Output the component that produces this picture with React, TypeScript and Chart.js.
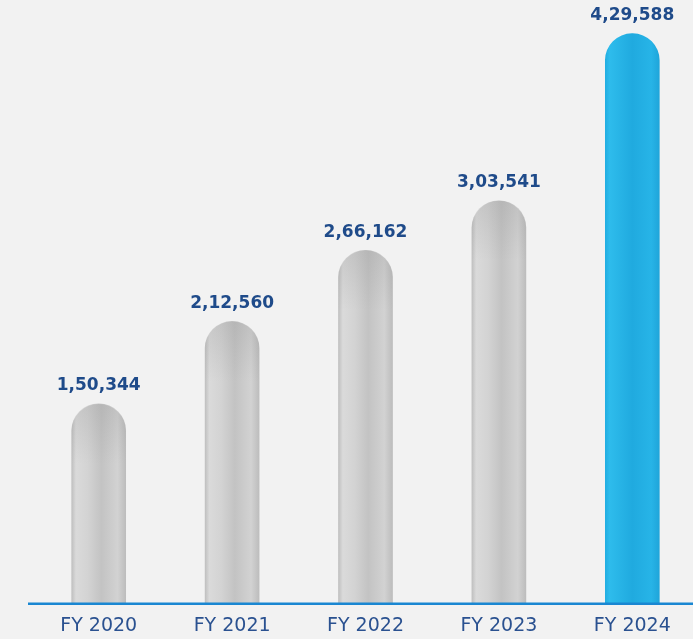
import React, { useEffect, useRef } from "react";
import { Chart, registerables } from "chart.js";

Chart.register(...registerables);

const categories = ["FY 2020", "FY 2021", "FY 2022", "FY 2023", "FY 2024"];
const values = [150344, 212560, 266162, 303541, 429588];
const valueLabels = ["1,50,344", "2,12,560", "2,66,162", "3,03,541", "4,29,588"];
const highlightIndex = [false, false, false, false, true];

const NAVY = "#1f4b8a";
const AXIS_BLUE = "#1a87d2";

export default function App() {
  const ref = useRef<HTMLCanvasElement | null>(null);

  useEffect(() => {
    document.body.style.margin = "0";
    document.body.style.overflow = "hidden";
    document.documentElement.style.overflow = "hidden";
    const canvas = ref.current;
    if (!canvas) return;

    const barColor = (ctx: any) => {
      const chart = ctx.chart;
      const xs = chart.scales?.x;
      const hi = highlightIndex[ctx.dataIndex];
      const fallback = hi ? "#26b3e6" : "#c8c8c8";
      if (!xs || ctx.dataIndex === undefined) return fallback;
      const cx = xs.getPixelForValue(ctx.dataIndex);
      if (!isFinite(cx)) return fallback;
      const half = 27;
      const g = chart.ctx.createLinearGradient(cx - half, 0, cx + half, 0);
      if (hi) {
        g.addColorStop(0, "#22aee2");
        g.addColorStop(0.08, "#2ebcec");
        g.addColorStop(0.5, "#20aadf");
        g.addColorStop(0.85, "#27b4e7");
        g.addColorStop(1, "#1fa5da");
      } else {
        g.addColorStop(0, "#c0c0c0");
        g.addColorStop(0.08, "#dadada");
        g.addColorStop(0.3, "#d3d3d3");
        g.addColorStop(0.55, "#c3c3c3");
        g.addColorStop(0.85, "#d2d2d2");
        g.addColorStop(1, "#bdbdbd");
      }
      return g;
    };

    const overlayPlugin = {
      id: "overlay",
      beforeDraw(chart: any) {
        const c = chart.ctx;
        c.save();
        c.fillStyle = "#f2f2f2";
        c.fillRect(0, 0, chart.width, chart.height);
        c.restore();
      },
      afterDatasetsDraw(chart: any) {
        const c = chart.ctx;
        const meta = chart.getDatasetMeta(0);
        const area = chart.chartArea;
        c.save();
        meta.data.forEach((bar: any, i: number) => {
          if (highlightIndex[i]) return;
          const g = c.createLinearGradient(0, bar.y, 0, bar.y + 60);
          g.addColorStop(0, "rgba(130,130,130,0.2)");
          g.addColorStop(1, "rgba(130,130,130,0)");
          c.fillStyle = g;
          c.beginPath();
          const r = bar.width / 2;
          c.moveTo(bar.x - r, bar.y + 60);
          c.lineTo(bar.x - r, bar.y + r);
          c.arc(bar.x, bar.y + r, r, Math.PI, 0);
          c.lineTo(bar.x + r, bar.y + 60);
          c.closePath();
          c.fill();
        });
        c.strokeStyle = AXIS_BLUE;
        c.lineWidth = 2.5;
        c.beginPath();
        c.moveTo(28, area.bottom + 0.5);
        c.lineTo(chart.width, area.bottom + 0.5);
        c.stroke();
        c.fillStyle = NAVY;
        c.font = "bold 17px 'DejaVu Sans'";
        c.textAlign = "center";
        c.textBaseline = "middle";
        meta.data.forEach((bar: any, i: number) => {
          c.fillText(valueLabels[i], bar.x, bar.y - 18);
        });
        c.restore();
      },
    };

    const chart = new Chart(canvas, {
      type: "bar",
      data: {
        labels: categories,
        datasets: [
          {
            data: values,
            backgroundColor: barColor,
            barThickness: 54,
            borderRadius: { topLeft: 27, topRight: 27, bottomLeft: 0, bottomRight: 0 },
            borderSkipped: "bottom",
          },
        ],
      },
      options: {
        responsive: false,
        animation: false,
        devicePixelRatio: 1,
        layout: { padding: { left: 32, right: 0, top: 0, bottom: 2 } },
        plugins: {
          legend: { display: false },
          tooltip: { enabled: false },
        },
        scales: {
          x: {
            grid: { display: false, drawTicks: false },
            border: { display: false },
            ticks: {
              color: "#2a5190",
              font: { family: "'DejaVu Sans'", size: 19 },
              padding: 11,
            },
          },
          y: {
            display: false,
            min: 0,
            max: 455000,
          },
        },
      },
      plugins: [overlayPlugin],
    });
    return () => chart.destroy();
  }, []);

  return (
    <div style={{ position: "fixed", left: 0, top: 0, width: 699, height: 650 }}>
      <canvas ref={ref} width={699} height={650} style={{ display: "block" }} />
    </div>
  );
}
